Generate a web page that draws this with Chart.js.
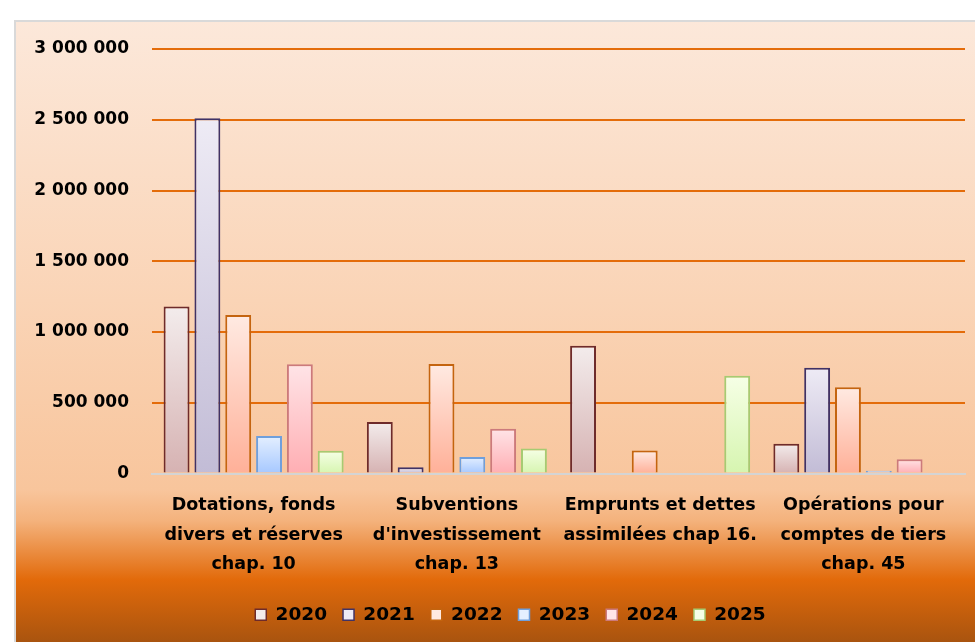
<!DOCTYPE html>
<html>
<head>
<meta charset="utf-8">
<script src="https://cdn.jsdelivr.net/npm/chart.js@4"></script>
<style>
  html, body { margin: 0; padding: 0; background: #fff; }
  #wrap { width: 975px; height: 642px; position: relative; }
</style>
</head>
<body>
<div id="wrap"><canvas id="chart"></canvas></div>
<script>
// Data
const categories = [
    ['Dotations, fonds', 'divers et réserves', 'chap. 10'],
    ['Subventions', "d'investissement", 'chap. 13'],
    ['Emprunts et dettes', 'assimilées chap 16.'],
    ['Opérations pour', 'comptes de tiers', 'chap. 45']
];
const years = ['2020', '2021', '2022', '2023', '2024', '2025'];
const v2020 = [1180000, 364000, 902000, 210000];
const v2021 = [2510000, 44000, null, 748000];
const v2022 = [1120000, 774000, 162000, 610000];
const v2023 = [265000, 117000, null, 20000];
const v2024 = [772000, 316000, null, 101000];
const v2025 = [160000, 176000, 691000, null];
const yTicks = [0, 500000, 1000000, 1500000, 2000000, 2500000, 3000000];

// Styles per year: border, gradient top, gradient bottom
const borders = ['#6e2b2b', '#403266', '#c4640f', '#6f9fdc', '#cc7a7c', '#a6cb72'];
const tops = ['#f3ecec', '#eeebf5', '#ffeae2', '#e4efff', '#ffe4e7', '#f6ffe6'];
const bottoms = ['#d6b2b2', '#c2bcd6', '#ffb098', '#a6c8ff', '#ffaeb3', '#d6f5b0'];

const FONT = "'DejaVu Sans', sans-serif";

function barGradient(i) {
    return (ctx) => {
        const chart = ctx.chart;
        const y = chart.scales && chart.scales.y;
        if (!chart.chartArea || !y || !ctx.parsed || !isFinite(ctx.parsed.y)) return tops[i];
        const y0 = y.getPixelForValue(ctx.parsed.y);
        const y1 = y.getPixelForValue(0);
        if (!isFinite(y0) || !isFinite(y1) || y1 - y0 < 1) return bottoms[i];
        const g = chart.ctx.createLinearGradient(0, y0, 0, y1);
        g.addColorStop(0, tops[i]);
        g.addColorStop(1, bottoms[i]);
        return g;
    };
}

// Panel background + legend nudge
const panelBg = {
    id: 'panelBg',
    afterLayout(chart) {
        // the legend sits a little right of the canvas centre
        chart.legend.left += 20;
        chart.legend.right += 20;
    },
    beforeDraw(chart) {
        const c = chart.ctx;
        const W = chart.width, H = chart.height;
        c.save();
        c.fillStyle = '#ffffff';
        c.fillRect(0, 0, W, H);
        const g = c.createLinearGradient(0, 21, 0, H);
        g.addColorStop(0, '#fce8da');
        g.addColorStop(0.45, '#fad4b6');
        g.addColorStop(0.755, '#f8c59c');
        g.addColorStop(0.805, '#f4b27c');
        g.addColorStop(0.90, '#e26a0a');
        g.addColorStop(1, '#a9540f');
        c.fillStyle = g;
        c.fillRect(15, 21, W - 15, H - 21);
        c.strokeStyle = '#d9d9d9';
        c.lineWidth = 2;
        c.beginPath();
        c.moveTo(15, H);
        c.lineTo(15, 21);
        c.lineTo(W, 21);
        c.stroke();
        c.restore();
    }
};

const fmt = (v) => String(v).replace(/\B(?=(\d{3})+(?!\d))/g, ' ');
const series = [v2020, v2021, v2022, v2023, v2024, v2025];

new Chart(document.getElementById('chart'), {
    type: 'bar',
    data: {
        labels: categories,
        datasets: series.map((d, i) => ({
            label: years[i],
            data: d,
            backgroundColor: barGradient(i),
            borderColor: borders[i],
            borderWidth: 2,
            categoryPercentage: 0.91,
            barPercentage: 0.84
        }))
    },
    options: {
        responsive: true,
        maintainAspectRatio: false,
        animation: false,
        layout: { padding: { left: 16, right: 10, top: 49, bottom: 8 } },
        plugins: {
            tooltip: { enabled: false },
            legend: {
                position: 'bottom',
                labels: {
                    boxWidth: 11,
                    boxHeight: 11,
                    padding: 16,
                    color: '#000',
                    font: { family: FONT, weight: 'bold', size: 18.5 },
                    generateLabels: (chart) => years.map((y, i) => ({
                        text: y,
                        fillStyle: tops[i],
                        strokeStyle: borders[i],
                        lineWidth: 1.5,
                        datasetIndex: i
                    }))
                }
            }
        },
        scales: {
            x: {
                grid: { display: false },
                border: { color: '#d4d4d4', width: 2 },
                ticks: {
                    color: '#000',
                    maxRotation: 0,
                    autoSkip: false,
                    padding: 9,
                    font: { family: FONT, weight: 'bold', size: 17.5, lineHeight: 1.7 }
                },
                afterFit: (scale) => { scale.height = 116; }
            },
            y: {
                min: 0,
                max: 3000000,
                afterBuildTicks: (scale) => { scale.ticks = yTicks.map(v => ({ value: v })); },
                grid: {
                    drawTicks: false,
                    lineWidth: 2,
                    color: (ctx) => ctx.tick && ctx.tick.value === 0 ? 'rgba(0,0,0,0)' : '#e46c0a'
                },
                border: { display: false },
                ticks: {
                    color: '#000',
                    padding: 23,
                    font: { family: FONT, weight: 'bold', size: 17 },
                    callback: (v) => fmt(v)
                },
                afterFit: (scale) => { scale.width = 136; }
            }
        }
    },
    plugins: [panelBg]
});
</script>
</body>
</html>
